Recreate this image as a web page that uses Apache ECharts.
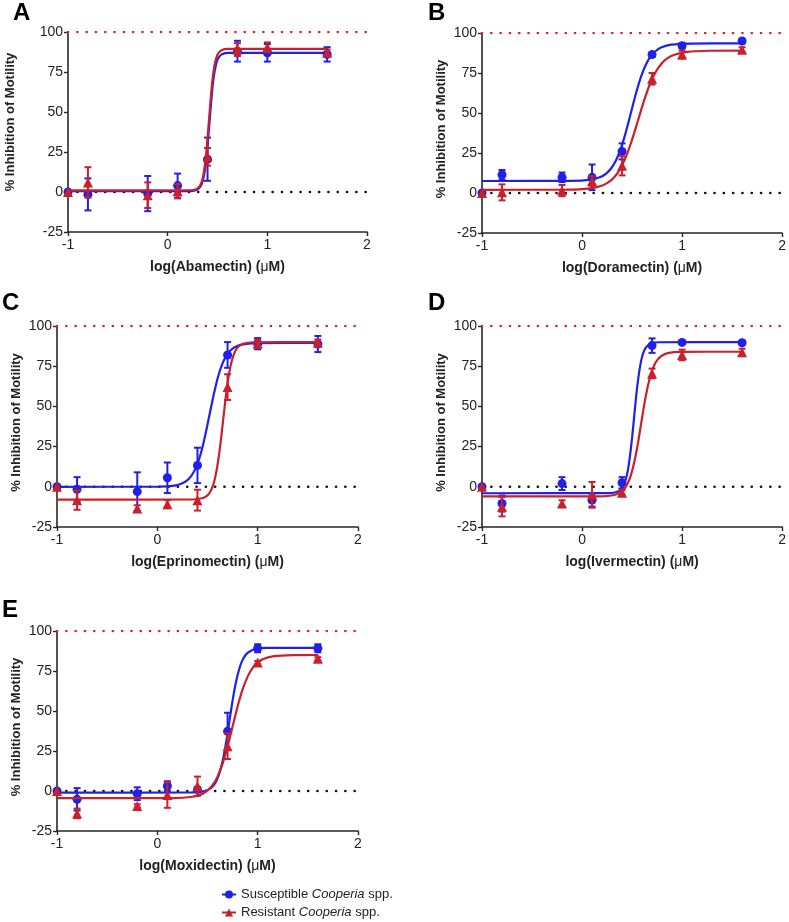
<!DOCTYPE html>
<html>
<head>
<meta charset="utf-8">
<script src="https://cdn.jsdelivr.net/npm/echarts/dist/echarts.min.js"></script>
<style>html,body{margin:0;padding:0;background:#fff}#c{width:789px;height:922px}</style>
</head>
<body>
<div id="c"></div>
<script>
// ---- data ----
const xDoses = [-1, -0.8, -0.2, 0.1, 0.4, 0.7, 1, 1.6];
const xTicks = [-1, 0, 1, 2];
const yTicks = [-25, 0, 25, 50, 75, 100];
const drugs = ['Abamectin', 'Doramectin', 'Eprinomectin', 'Ivermectin', 'Moxidectin'];
const letters = ['A', 'B', 'C', 'D', 'E'];
const seriesNames = ['Susceptible Cooperia spp.', 'Resistant Cooperia spp.'];

const susA = [0, -1.5, -1, 4, 20.5, 88, 87, 86];
const susAErr = [0, 10, 11, 7.5, 13.5, 6.5, 5.5, 4.5];
const resA = [0, 6, -2, 0.5, 22, 89, 90.5, 87];
const resAErr = [0, 9.5, 8, 4.5, 5.5, 4, 3, 2];

const susB = [0, 11.4, 9.8, 9.8, 26, 86.5, 92, 95];
const susBErr = [0, 3, 3, 8, 5, 1.5, 1.5, 1];
const resB = [0, 0.4, 1.5, 7.5, 17, 71.4, 86.5, 89.6];
const resBErr = [0, 5, 3.5, 3, 6, 3.6, 2.5, 1.5];

const susC = [0, -1.5, -3, 5.6, 13.3, 82, 89, 88.8];
const susCErr = [0, 7.5, 12, 9.5, 11, 8, 3.5, 5];
const resC = [0, -8.3, -13.5, -10.8, -8.3, 62, 89, 89.6];
const resCErr = [0, 6, 2, 2.5, 6.5, 8, 2.5, 2];

const susD = [0, -10.4, 2, -8.3, 2.5, 87.8, 89.8, 89.6];
const susDErr = [0, 5, 4, 4, 3.5, 4.5, 1, 1];
const resD = [0, -12.4, -10.4, -5, -3.7, 70.5, 82, 83.6];
const resDErr = [0, 6, 2, 8, 1.5, 3, 3.3, 2.3];

const susE = [0, -5.2, -1.7, 3.1, 1, 37.3, 89.2, 89.2];
const susEErr = [0, 7, 4, 3, 1, 11.6, 2.5, 2.5];
const resE = [0, -14, -9.3, -2.5, 3, 28, 80.3, 82.6];
const resEErr = [0, 3, 1, 8, 6, 8, 1, 1];

// fitted curves, points
const susCurveA = [[-1,0.5],[0.233,0.6],[0.295,1.4],[0.326,3.2],[0.342,5.1],[0.358,8.4],[0.373,13.6],[0.389,21.3],[0.404,31.6],[0.42,43.8],[0.436,55.9],[0.451,66.2],[0.467,73.9],[0.483,79.1],[0.498,82.4],[0.514,84.3],[0.545,86.1],[0.608,86.9],[1.6,87]];
const resCurveA = [[-1,1],[0.228,1.1],[0.29,1.9],[0.321,3.7],[0.337,5.7],[0.353,9],[0.368,14.4],[0.384,22.3],[0.399,32.9],[0.415,45.3],[0.431,57.6],[0.446,68.2],[0.462,76.1],[0.478,81.5],[0.493,84.8],[0.509,86.8],[0.54,88.6],[0.603,89.4],[1.6,89.5]];
const susCurveB = [[-1,7.5],[-0.11,7.6],[0.09,8.4],[0.19,10.1],[0.24,12.1],[0.29,15.3],[0.34,20.5],[0.39,28.2],[0.44,38.5],[0.49,50.5],[0.54,62.5],[0.59,72.8],[0.64,80.5],[0.69,85.7],[0.74,88.9],[0.79,90.9],[0.89,92.7],[1.09,93.4],[1.6,93.5]];
const resCurveB = [[-1,2],[-0.154,2.1],[0.084,2.9],[0.203,4.7],[0.262,6.6],[0.322,9.9],[0.381,15.1],[0.441,22.9],[0.5,33.3],[0.56,45.5],[0.62,57.7],[0.679,68.1],[0.739,75.9],[0.798,81.1],[0.858,84.4],[0.917,86.3],[1.036,88.1],[1.274,88.9],[1.6,89]];
const susCurveC = [[-1,0],[0.02,0.1],[0.187,0.9],[0.27,2.8],[0.312,4.8],[0.353,8.1],[0.395,13.5],[0.437,21.5],[0.478,32.2],[0.52,44.8],[0.562,57.3],[0.603,68],[0.645,76],[0.687,81.4],[0.728,84.7],[0.77,86.8],[0.853,88.6],[1.02,89.4],[1.6,89.5]];
const resCurveC = [[-1,-8],[0.355,-7.9],[0.455,-7],[0.505,-5],[0.53,-2.8],[0.555,0.9],[0.58,6.8],[0.605,15.6],[0.63,27.3],[0.655,41],[0.68,54.7],[0.705,66.5],[0.73,75.2],[0.755,81.1],[0.78,84.8],[0.805,87],[0.855,89],[0.955,89.9],[1.6,90]];
const susCurveD = [[-1,-4],[0.27,-3.9],[0.353,-3.1],[0.395,-1.1],[0.416,1],[0.437,4.5],[0.458,10.2],[0.478,18.6],[0.499,29.8],[0.52,43],[0.541,56.2],[0.562,67.4],[0.583,75.8],[0.603,81.5],[0.624,85],[0.645,87.1],[0.687,89.1],[0.77,89.9],[1.6,90]];
const resCurveD = [[-1,-6],[0.19,-5.9],[0.323,-5.1],[0.39,-3.2],[0.423,-1.2],[0.457,2.2],[0.49,7.6],[0.523,15.6],[0.557,26.4],[0.59,39],[0.623,51.6],[0.657,62.4],[0.69,70.4],[0.723,75.8],[0.757,79.2],[0.79,81.2],[0.857,83.1],[0.99,83.9],[1.6,84]];
const susCurveE = [[-1,-1],[0.345,-0.9],[0.47,-0.1],[0.533,1.8],[0.564,3.8],[0.595,7.2],[0.626,12.7],[0.658,20.8],[0.689,31.6],[0.72,44.3],[0.751,56.9],[0.783,67.8],[0.814,75.8],[0.845,81.3],[0.876,84.7],[0.908,86.7],[0.97,88.6],[1.095,89.4],[1.6,89.5]];
const resCurveE = [[-1,-4.5],[0.15,-4.4],[0.35,-3.6],[0.45,-1.8],[0.5,0.3],[0.55,3.6],[0.6,9],[0.65,17],[0.7,27.7],[0.75,40.3],[0.8,52.8],[0.85,63.5],[0.9,71.5],[0.95,76.9],[1,80.2],[1.05,82.3],[1.15,84.1],[1.35,84.9],[1.6,85]];

const refTop = 100;   // red dotted reference
const refZero = 0;    // black dotted reference

// ---- layout / style ----
const FONT = "'Liberation Sans', Arial, sans-serif";
const BLUE = '#2020e6';
const RED = '#c9202b';
const AXIS = '#262626';

const sus = [susA, susB, susC, susD, susE];
const susErr = [susAErr, susBErr, susCErr, susDErr, susEErr];
const res = [resA, resB, resC, resD, resE];
const resErr = [resAErr, resBErr, resCErr, resDErr, resEErr];
const susCurves = [susCurveA, susCurveB, susCurveC, susCurveD, susCurveE];
const resCurves = [resCurveA, resCurveB, resCurveC, resCurveD, resCurveE];

const grids = [
  {left: 68, top: 32, width: 299, height: 200},
  {left: 482, top: 33, width: 301, height: 200},
  {left: 57, top: 326, width: 301, height: 201},
  {left: 482, top: 326, width: 301, height: 201},
  {left: 57, top: 631, width: 301, height: 200}
];
const yNameGap = [51, 34, 34, 34, 34];
const yNameShift = [20, 8, 8, 8, 8];
const letterPos = [[13, 1], [428, 1], [2, 291], [428, 291], [2, 598]];

function errRender(color) {
  return function (params, api) {
    const x = api.value(0), m = api.value(1), e = api.value(2);
    if (!e) return null;
    const t = api.coord([x, m + e]);
    const b = api.coord([x, m - e]);
    const w = 3.5;
    const st = {stroke: color, lineWidth: 2};
    return {
      type: 'group',
      children: [
        {type: 'line', shape: {x1: t[0], y1: t[1], x2: b[0], y2: b[1]}, style: st},
        {type: 'line', shape: {x1: t[0] - w, y1: t[1], x2: t[0] + w, y2: t[1]}, style: st},
        {type: 'line', shape: {x1: b[0] - w, y1: b[1], x2: b[0] + w, y2: b[1]}, style: st}
      ]
    };
  };
}

const xAxes = [], yAxes = [], series = [], graphics = [];
grids.forEach((g, i) => {
  xAxes.push({
    gridIndex: i, type: 'value', min: -1, max: 2, interval: 1,
    name: 'log(' + drugs[i] + ') ({m|μ}M)',
    nameLocation: 'middle', nameGap: 28,
    nameTextStyle: {fontFamily: FONT, fontSize: 14, fontWeight: 'bold', color: '#222',
      rich: {m: {fontFamily: FONT, fontSize: 14, fontWeight: 'normal', color: '#222'}}},
    axisLine: {onZero: false, lineStyle: {color: AXIS, width: 1.6}},
    axisTick: {show: true, length: 4, lineStyle: {color: AXIS, width: 1.4}},
    axisLabel: {fontFamily: FONT, fontSize: 14, color: '#222', margin: 6},
    splitLine: {show: false}
  });
  yAxes.push({
    gridIndex: i, type: 'value', min: -25, max: 100, interval: 25,
    name: '% Inhibition of Motility',
    nameLocation: 'middle', nameGap: yNameGap[i],
    nameTextStyle: {fontFamily: FONT, fontSize: 13, fontWeight: 'bold', color: '#222',
      padding: [0, 0, 0, yNameShift[i]]},
    axisLine: {onZero: false, lineStyle: {color: AXIS, width: 1.6}},
    axisTick: {show: true, length: 4, lineStyle: {color: AXIS, width: 1.4}},
    axisLabel: {fontFamily: FONT, fontSize: 14, color: '#222', margin: 5},
    splitLine: {show: false}
  });
  const base = {xAxisIndex: i, yAxisIndex: i};
  // dotted references
  series.push(Object.assign({}, base, {
    type: 'line', data: [[-1, refTop], [2, refTop]], symbol: 'none', silent: true,
    lineStyle: {color: '#d8262e', width: 2.6, type: [0.1, 9.2], cap: 'round'}, z: 1
  }));
  series.push(Object.assign({}, base, {
    type: 'line', data: [[-1, refZero], [2, refZero]], symbol: 'none', silent: true,
    lineStyle: {color: '#111', width: 2.6, type: [0.1, 9.2], cap: 'round'}, z: 1
  }));
  const groups = [
    {name: seriesNames[0], color: BLUE, vals: sus[i], errs: susErr[i], curve: susCurves[i], symbol: 'circle', size: 9, z: 3},
    {name: seriesNames[1], color: RED, vals: res[i], errs: resErr[i], curve: resCurves[i], symbol: 'triangle', size: 10, z: 5}
  ];
  groups.forEach(gr => {
    series.push(Object.assign({}, base, {
      name: gr.name, type: 'line', data: gr.curve, smooth: 0.3,
      symbol: gr.symbol, symbolSize: 9, showSymbol: false,
      itemStyle: {color: gr.color},
      lineStyle: {color: gr.color, width: 2.2}, z: gr.z
    }));
    series.push(Object.assign({}, base, {
      type: 'custom', renderItem: errRender(gr.color),
      data: xDoses.map((x, k) => [x, gr.vals[k], gr.errs[k]]),
      encode: {x: 0, y: 1}, z: gr.z, silent: true
    }));
    series.push(Object.assign({}, base, {
      name: gr.name, type: 'scatter', symbol: gr.symbol, symbolSize: gr.size,
      data: xDoses.map((x, k) => [x, gr.vals[k]]),
      itemStyle: {color: gr.color, opacity: 1}, z: gr.z + 1
    }));
  });
  graphics.push({
    type: 'text', left: letterPos[i][0], top: letterPos[i][1],
    style: {text: letters[i], font: 'bold 24px ' + FONT, fill: '#000'}
  });
});

const legendBase = {
  orient: 'vertical', left: 221, padding: 0,
  itemWidth: 14, itemHeight: 10,
  formatter: n => n.replace('Cooperia', '{i|Cooperia}'),
  textStyle: {fontFamily: FONT, fontSize: 13, color: '#222',
    rich: {i: {fontFamily: FONT, fontSize: 13, fontStyle: 'italic', color: '#222'}}}
};

const chart = echarts.init(document.getElementById('c'), null, {renderer: 'canvas'});
chart.setOption({
  animation: false,
  backgroundColor: '#fff',
  grid: grids,
  xAxis: xAxes,
  yAxis: yAxes,
  series: series,
  graphic: graphics,
  legend: [
    Object.assign({}, legendBase, {data: [seriesNames[0]], top: 888}),
    Object.assign({}, legendBase, {data: [seriesNames[1]], top: 906})
  ]
});
</script>
</body>
</html>
